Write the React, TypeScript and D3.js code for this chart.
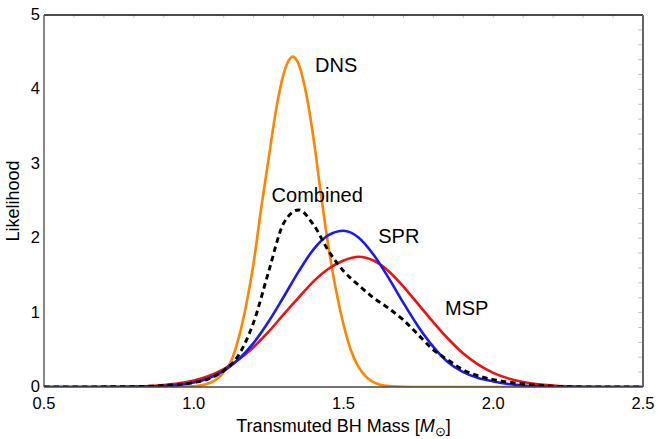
import React from "react";
import * as d3 from "d3";

// ---- data ----
const dnsMass = [0.5, 0.9, 1.0, 1.05, 1.075, 1.1, 1.125, 1.15, 1.175, 1.2, 1.225, 1.25, 1.275, 1.3, 1.325, 1.33, 1.35, 1.375, 1.4, 1.425, 1.45, 1.475, 1.5, 1.525, 1.55, 1.575, 1.6, 1.65, 1.7, 1.8, 2.5];
const dnsLike = [0, 0, 0.008, 0.05, 0.1, 0.2, 0.35, 0.66, 1.1, 1.67, 2.4, 3.07, 3.73, 4.21, 4.43, 4.44, 4.34, 3.95, 3.34, 2.58, 1.88, 1.3, 0.84, 0.49, 0.27, 0.14, 0.066, 0.012, 0.002, 0, 0];

const sprMass = [0.5, 0.7, 0.8, 0.9, 0.95, 1.0, 1.05, 1.1, 1.15, 1.2, 1.25, 1.3, 1.35, 1.4, 1.45, 1.5, 1.55, 1.6, 1.65, 1.7, 1.75, 1.8, 1.85, 1.9, 1.95, 2.0, 2.05, 2.1, 2.2, 2.3, 2.5];
const sprLike = [0, 0.0002, 0.002, 0.012, 0.028, 0.06, 0.118, 0.217, 0.373, 0.593, 0.88, 1.21, 1.55, 1.85, 2.04, 2.1, 2.01, 1.78, 1.47, 1.13, 0.81, 0.54, 0.33, 0.2, 0.12, 0.075, 0.04, 0.02, 0.004, 0.001, 0];

const mspMass = [0.5, 0.6, 0.7, 0.8, 0.9, 0.95, 1.0, 1.05, 1.1, 1.15, 1.2, 1.25, 1.3, 1.35, 1.4, 1.45, 1.5, 1.55, 1.6, 1.65, 1.7, 1.75, 1.8, 1.85, 1.9, 1.95, 2.0, 2.05, 2.1, 2.2, 2.3, 2.4, 2.5];
const mspLike = [0, 0.0002, 0.0012, 0.006, 0.026, 0.049, 0.088, 0.149, 0.241, 0.369, 0.537, 0.743, 0.975, 1.2, 1.42, 1.59, 1.7, 1.75, 1.7, 1.56, 1.35, 1.11, 0.87, 0.645, 0.45, 0.3, 0.19, 0.116, 0.067, 0.019, 0.004, 0.001, 0];

const combMass = [0.5, 0.8, 0.9, 1.0, 1.05, 1.1, 1.15, 1.2, 1.25, 1.3, 1.35, 1.4, 1.45, 1.5, 1.55, 1.6, 1.65, 1.7, 1.75, 1.8, 1.85, 1.9, 1.95, 2.0, 2.05, 2.1, 2.2, 2.3, 2.5];
const combLike = [0, 0.005, 0.02, 0.06, 0.11, 0.22, 0.43, 0.87, 1.55, 2.2, 2.38, 2.18, 1.83, 1.56, 1.37, 1.2, 1.06, 0.9, 0.7, 0.5, 0.36, 0.23, 0.15, 0.1, 0.065, 0.04, 0.01, 0.002, 0];

const xTicks = [0.5, 1.0, 1.5, 2.0, 2.5];
const yTicks = [0, 1, 2, 3, 4, 5];
const labels = [
  { text: "DNS", m: 1.405, v: 4.234 },
  { text: "Combined", m: 1.26, v: 2.49 },
  { text: "SPR", m: 1.616, v: 1.94 },
  { text: "MSP", m: 1.839, v: 0.968 },
];

const W = 658, H = 439;
const L = 44, R = 643, T = 15, B = 387;

export default function App() {
  const x = d3.scaleLinear().domain([0.5, 2.5]).range([L, R]);
  const y = d3.scaleLinear().domain([0, 5]).range([B, T]);
  const mk = (ms: number[], vs: number[]) =>
    d3.line<number>().x((_, i) => x(ms[i])).y((v) => y(v)).curve(d3.curveMonotoneX)(vs) as string;

  const minorX = d3.range(0.6, 2.5, 0.1);
  const minorY = d3.range(0.2, 5, 0.2);
  const font = "'Liberation Sans', Arial, sans-serif";

  return (
    <svg width={W} height={H} style={{ position: "absolute", left: 0, top: 0, background: "#fff" }} fontFamily={font}>
      <defs>
        <clipPath id="plot"><rect x={L} y={T} width={R - L} height={B - T} /></clipPath>
      </defs>
      {/* minor ticks */}
      {minorX.map((t) => (
        <line key={"tx" + t} x1={x(t)} x2={x(t)} y1={T} y2={T + 3} stroke="#c8c8c8" strokeWidth={1} />
      ))}
      {minorY.map((t) => (
        <line key={"ty" + t} x1={R - 5} x2={R} y1={y(t)} y2={y(t)} stroke="#c8c8c8" strokeWidth={1} />
      ))}
      <g clipPath="url(#plot)" fill="none" strokeWidth={2.6} strokeLinejoin="round">
        <path d={mk(dnsMass, dnsLike)} stroke="#ff8400" />
        <path d={mk(mspMass, mspLike)} stroke="#ee1111" />
        <path d={mk(sprMass, sprLike)} stroke="#1a1aee" />
        <path d={mk(combMass, combLike)} stroke="#000" strokeDasharray="5.5,4" strokeWidth={2.9} />
      </g>
      {/* frame */}
      <line x1={L} x2={R} y1={T} y2={T} stroke="#111" strokeWidth={1.3} />
      <line x1={R} x2={R} y1={T} y2={B} stroke="#666" strokeWidth={2} />
      <line x1={L} x2={R} y1={B} y2={B} stroke="#444" strokeWidth={1.3} />
      <line x1={L} x2={L} y1={T} y2={B} stroke="#444" strokeWidth={1.3} />
      {/* tick labels */}
      {xTicks.map((t) => (
        <text key={"xl" + t} x={x(t)} y={409} fontSize={16.5} textAnchor="middle">{t.toFixed(1)}</text>
      ))}
      {yTicks.map((t) => (
        <text key={"yl" + t} x={40} y={y(t) + 5} fontSize={16.5} textAnchor="end">{t}</text>
      ))}
      {/* axis titles */}
      <text x={(L + R) / 2} y={431.5} fontSize={18} textAnchor="middle">
        Transmuted BH Mass [<tspan fontStyle="italic">M</tspan><tspan fontSize={13} dy={4}>⊙</tspan><tspan dy={-4}>]</tspan>
      </text>
      <text transform={`translate(${19},${(T + B) / 2}) rotate(-90)`} fontSize={18} textAnchor="middle">Likelihood</text>
      {/* curve labels */}
      {labels.map((lb) => (
        <text key={lb.text} x={x(lb.m)} y={y(lb.v)} fontSize={20} textAnchor="start">{lb.text}</text>
      ))}
    </svg>
  );
}
